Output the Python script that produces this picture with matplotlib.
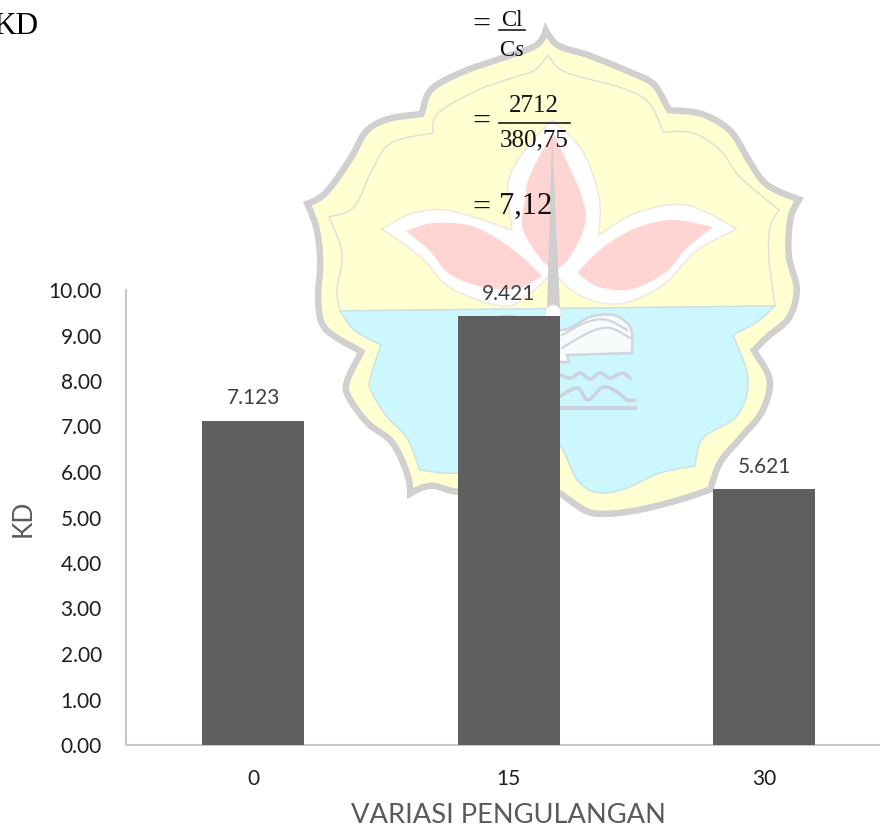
import numpy as np
import matplotlib
matplotlib.use("Agg")
import matplotlib.pyplot as plt
from matplotlib.patches import Polygon, Circle

# Chart data
categories = ["0", "15", "30"]
kd_values = [7.123, 9.421, 5.621]
kd_labels = ["7.123", "9.421", "5.621"]
y_ticks = [0, 1, 2, 3, 4, 5, 6, 7, 8, 9, 10]
y_tick_labels = ["0.00", "1.00", "2.00", "3.00", "4.00", "5.00", "6.00", "7.00", "8.00", "9.00", "10.00"]

W, H = 880, 830
SANS = "Lato"
SERIF = "Liberation Serif"
plt.rcParams["mathtext.fontset"] = "custom"
plt.rcParams["mathtext.rm"] = SERIF
plt.rcParams["mathtext.it"] = SERIF + ":italic"

YELLOW = "#FFFFD2"
BLUE = "#CDF7FF"
PINK = "#FFD5D3"
GREY = "#D0D0D0"
HAIR = "#E2E0D2"


def spline(segments, n=14):
    """Catmull-Rom through each run of points; runs meet in sharp corners."""
    out = []
    for seg in segments:
        p = np.array(seg, float)
        q = np.vstack([p[0], p, p[-1]])
        for i in range(1, len(q) - 2):
            for t in np.linspace(0, 1, n, endpoint=False):
                a, b, c, d = q[i - 1], q[i], q[i + 1], q[i + 2]
                out.append(0.5 * (2 * b + (c - a) * t + (2 * a - 5 * b + 4 * c - d) * t ** 2
                                  + (3 * b - a - 3 * c + d) * t ** 3))
        out.append(p[-1])
    return np.array(out)


# University emblem behind the chart, in pixel units
outer = spline([
    [(545, 22), (559, 42), (589, 52), (631, 69), (656, 82), (671, 107)],
    [(671, 107), (703, 111), (733, 129), (753, 161), (770, 183), (804, 198)],
    [(804, 198), (794, 218), (792, 255), (800, 289), (792, 319), (770, 339), (758, 351)],
    [(758, 351), (773, 380), (765, 413), (743, 440), (723, 464), (713, 492)],
    [(713, 492), (680, 503), (640, 513), (607, 517), (585, 514), (560, 497)],
    [(560, 497), (510, 497), (457, 495), (430, 489), (407, 499)],
    [(407, 499), (405, 478), (390, 445), (365, 425), (345, 397), (344, 380), (357, 353)],
    [(357, 353), (323, 331), (315, 302), (317, 262), (313, 228), (303, 202)],
    [(303, 202), (323, 191), (347, 158), (364, 129), (387, 116), (419, 111)],
    [(419, 111), (429, 87), (461, 69), (501, 55), (535, 42), (545, 22)],
])
inner_top = spline([
    [(340, 311), (337, 290), (342, 253), (329, 217)],
    [(329, 217), (354, 207), (372, 170), (391, 143), (433, 133)],
    [(433, 133), (438, 113), (478, 90), (515, 77), (535, 70), (548, 55)],
    [(548, 55), (565, 72), (622, 88), (649, 103), (663, 132)],
    [(663, 132), (693, 133), (720, 150), (740, 177), (779, 210)],
    [(779, 210), (770, 227), (769, 258), (775, 306)],
])
inner_bottom = spline([
    [(340, 311), (354, 330), (381, 345)],
    [(381, 345), (370, 379), (372, 393), (388, 418), (407, 438), (420, 470)],
    [(420, 470), (457, 473), (500, 462), (540, 430)],
    [(540, 430), (560, 445), (578, 481), (600, 493), (627, 488), (660, 473), (695, 466)],
    [(695, 466), (703, 438), (737, 416), (748, 379), (733, 335)],
    [(733, 335), (757, 322), (775, 306)],
])
lotus = spline([
    [(382, 229), (414, 213), (451, 211), (512, 230)],
    [(512, 230), (508, 183), (525, 150), (552, 120)],
    [(552, 120), (582, 150), (599, 197), (599, 235)],
    [(599, 235), (636, 213), (686, 205), (737, 229)],
    [(737, 229), (696, 251), (663, 285), (619, 304), (579, 295), (553, 272)],
    [(553, 272), (528, 295), (502, 306), (451, 288), (424, 260), (400, 241), (382, 229)],
])
petal_centre = spline([
    [(553, 132), (530, 175), (525, 200), (523, 230), (547, 265), (565, 263), (584, 228), (582, 197), (553, 132)],
])
petal_left = spline([
    [(406, 231), (434, 223), (475, 227), (515, 251), (542, 276)],
    [(542, 276), (521, 287), (488, 288), (451, 275), (429, 250), (406, 231)],
])
petal_right = spline([
    [(713, 227), (673, 220), (636, 228), (602, 248), (577, 273)],
    [(577, 273), (599, 287), (632, 289), (666, 272), (686, 249), (713, 227)],
])
boat = spline([
    [(480, 352), (487, 325), (510, 316), (560, 330), (590, 317), (613, 315), (627, 323), (632, 333), (632, 353)],
])
boat_rib_a = spline([[(562, 335), (587, 322), (607, 320), (627, 330)]])
boat_rib_b = spline([[(562, 348), (590, 332), (610, 328), (630, 338)]])
wave_a = spline([[(556, 373), (570, 378), (580, 373), (590, 379), (600, 373), (610, 378), (622, 373), (630, 378)]])
wave_b = spline([[(556, 399), (577, 388), (588, 400), (603, 387), (617, 392), (627, 400), (635, 400)]])

fig = plt.figure(figsize=(W / 100, H / 100), dpi=100, facecolor="white")
bg = fig.add_axes([0, 0, 1, 1])
bg.set_xlim(0, W)
bg.set_ylim(H, 0)
bg.axis("off")

px = 72 / 100  # points per pixel at this dpi

# Shield: yellow body with a grey rim held inside the silhouette
body = Polygon(outer, closed=True, fc=YELLOW, ec="none", zorder=1)
bg.add_patch(body)
rim = Polygon(outer, closed=True, fc="none", ec=GREY, lw=13 * px, joinstyle="miter", zorder=2)
bg.add_patch(rim)
rim.set_clip_path(body)
bg.fill(*np.vstack([inner_top, inner_top[0]]).T, fc=YELLOW, ec=HAIR, lw=1.5 * px, zorder=3)
water = np.vstack([inner_top[0], inner_bottom])
bg.fill(*water.T, fc=BLUE, ec="#CBE2E5", lw=1.5 * px, zorder=3)

# Lotus
bg.fill(*lotus.T, fc="white", ec="#F2E6DE", lw=1.5 * px, zorder=4)
for petal in (petal_centre, petal_left, petal_right):
    bg.fill(*petal.T, fc=PINK, ec="none", zorder=5)
bg.add_patch(Polygon([(552, 134), (547, 308), (560, 308)], closed=True, fc="#CFCFCF", ec="none", zorder=6))
bg.add_patch(Circle((553, 313), 8, fc="white", ec="#E2E2E2", lw=1 * px, zorder=7))

# Boat and waves in the lower field
bg.add_patch(Polygon(np.vstack([boat, [(632, 353), (567, 355), (569, 362), (480, 362)]]), closed=True,
                     fc="#F8FBFC", ec="#CFD7DE", lw=2.5 * px, zorder=6))
for rib in (boat_rib_a, boat_rib_b):
    bg.plot(*rib.T, color="#CFD7DE", lw=2.2 * px, zorder=7)
for wave in (wave_a, wave_b):
    bg.plot(*wave.T, color="#CBD3DE", lw=3.5 * px, solid_capstyle="round", zorder=7)
bg.plot([556, 635], [408, 408], color="#CBD3DE", lw=4 * px, zorder=7)

# Worked equation above the chart
ink = "#111111"
bg.text(38, 34, "KD", family=SERIF, fontsize=22.5, color="black", ha="right", va="baseline", zorder=10)
for y, size in ((25, 23), (122, 23), (208, 23)):
    bg.text(481.5, y, "=", family=SERIF, fontsize=size, color=ink, ha="center", va="center", zorder=10)
bg.text(511.5, 20, "Cl", family=SERIF, fontsize=16.5, color=ink, ha="center", va="center", zorder=10)
bg.plot([498.5, 524.5], [30, 30], color=ink, lw=1.6 * px, zorder=10)
bg.text(511.5, 51, r"C$\mathit{s}$", family=SERIF, fontsize=16.5, color=ink, ha="center", va="center", zorder=10)
bg.text(534, 106, "2712", family=SERIF, fontsize=18, color=ink, ha="center", va="center", zorder=10)
bg.plot([498.5, 570], [122.6, 122.6], color=ink, lw=1.6 * px, zorder=10)
bg.text(534, 140, "380,75", family=SERIF, fontsize=18, color=ink, ha="center", va="center", zorder=10)
bg.text(499, 206.5, "7,12", family=SERIF, fontsize=22, color=ink, ha="left", va="center", zorder=10)

# Bar chart; the plot area runs slightly past the right edge of the figure
ax = fig.add_axes([125.5 / W, (H - 745) / H, 766.3 / W, 455 / H])
ax.patch.set_visible(False)
positions = np.arange(len(categories))
bars = ax.bar(positions, kd_values, width=0.4, color="#5F5F5F", zorder=3)
ax.bar_label(bars, labels=kd_labels, padding=9, family=SANS, fontsize=15, color="#404040")
ax.set_xlim(-0.5, 2.5)
ax.set_ylim(0, 10)
ax.set_xticks(positions, categories)
ax.set_yticks(y_ticks, y_tick_labels)
ax.tick_params(axis="both", length=0, labelsize=15, labelcolor="#1E1E1E")
ax.tick_params(axis="x", pad=17)
ax.tick_params(axis="y", pad=17)
for label in ax.get_xticklabels() + ax.get_yticklabels():
    label.set_family(SANS)
for side in ("top", "right"):
    ax.spines[side].set_visible(False)
for side in ("left", "bottom"):
    ax.spines[side].set_color("#C8C8C8")
    ax.spines[side].set_linewidth(1.5)

bg.text(508, 815, "VARIASI PENGULANGAN", family=SANS, fontsize=19.6, color="#5A5A5A", ha="center", va="center", zorder=10)
bg.text(23, 518, "KD", family=SANS, fontsize=19, color="#5A5A5A", rotation=90, ha="center", va="center", zorder=10)

fig.savefig("out.png", dpi=100)
